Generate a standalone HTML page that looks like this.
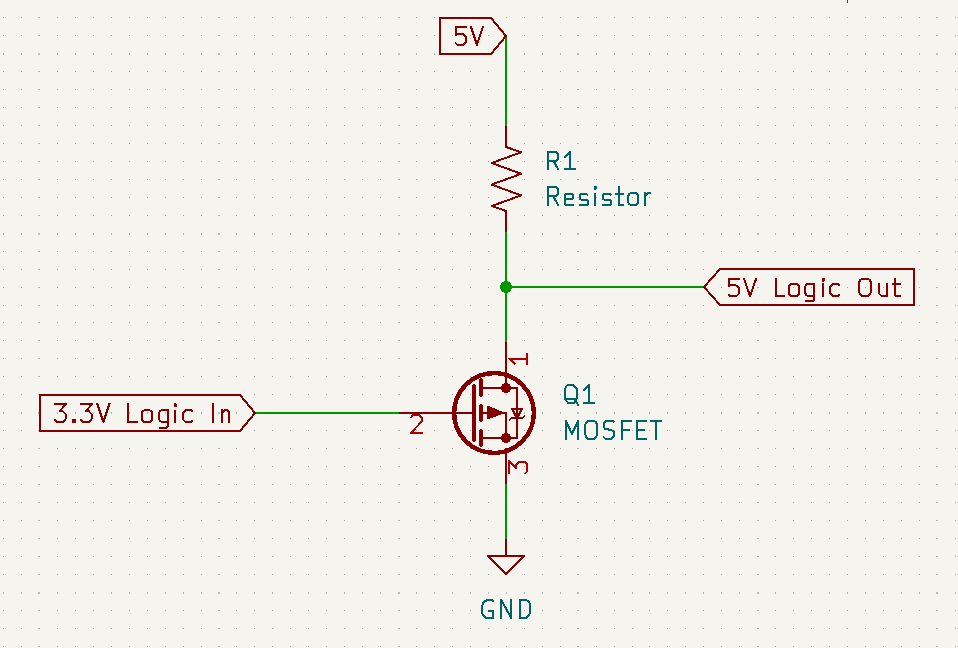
<!DOCTYPE html>
<html><head><meta charset="utf-8"><style>
html,body{margin:0;padding:0;background:#F5F4EF;width:958px;height:648px;overflow:hidden;font-family:"Liberation Sans",sans-serif;}
svg{display:block;} svg *{shape-rendering:crispEdges;}
</style></head><body>
<svg width="958" height="648" viewBox="0 0 958 648">
<rect width="958" height="648" fill="#F5F4EF"/>
<path d="M3,17h1v1h-1zM3,35h1v1h-1zM3,71h1v1h-1zM3,89h1v1h-1zM3,107h1v1h-1zM3,125h1v1h-1zM3,143h1v1h-1zM3,161h1v1h-1zM3,179h1v1h-1zM3,197h1v1h-1zM3,215h1v1h-1zM3,251h1v1h-1zM3,269h1v1h-1zM3,287h1v1h-1zM3,305h1v1h-1zM3,322h1v1h-1zM3,340h1v1h-1zM3,358h1v1h-1zM3,376h1v1h-1zM3,394h1v1h-1zM3,430h1v1h-1zM3,448h1v1h-1zM3,466h1v1h-1zM3,484h1v1h-1zM3,502h1v1h-1zM3,520h1v1h-1zM3,538h1v1h-1zM3,556h1v1h-1zM3,574h1v1h-1zM3,610h1v1h-1zM3,628h1v1h-1zM3,646h1v1h-1zM21,17h1v1h-1zM21,35h1v1h-1zM21,71h1v1h-1zM21,89h1v1h-1zM21,107h1v1h-1zM21,125h1v1h-1zM21,143h1v1h-1zM21,161h1v1h-1zM21,179h1v1h-1zM21,197h1v1h-1zM21,215h1v1h-1zM21,251h1v1h-1zM21,269h1v1h-1zM21,287h1v1h-1zM21,305h1v1h-1zM21,322h1v1h-1zM21,340h1v1h-1zM21,358h1v1h-1zM21,376h1v1h-1zM21,394h1v1h-1zM21,430h1v1h-1zM21,448h1v1h-1zM21,466h1v1h-1zM21,484h1v1h-1zM21,502h1v1h-1zM21,520h1v1h-1zM21,538h1v1h-1zM21,556h1v1h-1zM21,574h1v1h-1zM21,610h1v1h-1zM21,628h1v1h-1zM21,646h1v1h-1zM57,17h1v1h-1zM57,35h1v1h-1zM57,71h1v1h-1zM57,89h1v1h-1zM57,107h1v1h-1zM57,125h1v1h-1zM57,143h1v1h-1zM57,161h1v1h-1zM57,179h1v1h-1zM57,197h1v1h-1zM57,215h1v1h-1zM57,251h1v1h-1zM57,269h1v1h-1zM57,287h1v1h-1zM57,305h1v1h-1zM57,322h1v1h-1zM57,340h1v1h-1zM57,358h1v1h-1zM57,376h1v1h-1zM57,394h1v1h-1zM57,430h1v1h-1zM57,448h1v1h-1zM57,466h1v1h-1zM57,484h1v1h-1zM57,502h1v1h-1zM57,520h1v1h-1zM57,538h1v1h-1zM57,556h1v1h-1zM57,574h1v1h-1zM57,610h1v1h-1zM57,628h1v1h-1zM57,646h1v1h-1zM75,17h1v1h-1zM75,35h1v1h-1zM75,71h1v1h-1zM75,89h1v1h-1zM75,107h1v1h-1zM75,125h1v1h-1zM75,143h1v1h-1zM75,161h1v1h-1zM75,179h1v1h-1zM75,197h1v1h-1zM75,215h1v1h-1zM75,251h1v1h-1zM75,269h1v1h-1zM75,287h1v1h-1zM75,305h1v1h-1zM75,322h1v1h-1zM75,340h1v1h-1zM75,358h1v1h-1zM75,376h1v1h-1zM75,394h1v1h-1zM75,430h1v1h-1zM75,448h1v1h-1zM75,466h1v1h-1zM75,484h1v1h-1zM75,502h1v1h-1zM75,520h1v1h-1zM75,538h1v1h-1zM75,556h1v1h-1zM75,574h1v1h-1zM75,610h1v1h-1zM75,628h1v1h-1zM75,646h1v1h-1zM93,17h1v1h-1zM93,35h1v1h-1zM93,71h1v1h-1zM93,89h1v1h-1zM93,107h1v1h-1zM93,125h1v1h-1zM93,143h1v1h-1zM93,161h1v1h-1zM93,179h1v1h-1zM93,197h1v1h-1zM93,215h1v1h-1zM93,251h1v1h-1zM93,269h1v1h-1zM93,287h1v1h-1zM93,305h1v1h-1zM93,322h1v1h-1zM93,340h1v1h-1zM93,358h1v1h-1zM93,376h1v1h-1zM93,394h1v1h-1zM93,430h1v1h-1zM93,448h1v1h-1zM93,466h1v1h-1zM93,484h1v1h-1zM93,502h1v1h-1zM93,520h1v1h-1zM93,538h1v1h-1zM93,556h1v1h-1zM93,574h1v1h-1zM93,610h1v1h-1zM93,628h1v1h-1zM93,646h1v1h-1zM111,17h1v1h-1zM111,35h1v1h-1zM111,71h1v1h-1zM111,89h1v1h-1zM111,107h1v1h-1zM111,125h1v1h-1zM111,143h1v1h-1zM111,161h1v1h-1zM111,179h1v1h-1zM111,197h1v1h-1zM111,215h1v1h-1zM111,251h1v1h-1zM111,269h1v1h-1zM111,287h1v1h-1zM111,305h1v1h-1zM111,322h1v1h-1zM111,340h1v1h-1zM111,358h1v1h-1zM111,376h1v1h-1zM111,394h1v1h-1zM111,430h1v1h-1zM111,448h1v1h-1zM111,466h1v1h-1zM111,484h1v1h-1zM111,502h1v1h-1zM111,520h1v1h-1zM111,538h1v1h-1zM111,556h1v1h-1zM111,574h1v1h-1zM111,610h1v1h-1zM111,628h1v1h-1zM111,646h1v1h-1zM129,17h1v1h-1zM129,35h1v1h-1zM129,71h1v1h-1zM129,89h1v1h-1zM129,107h1v1h-1zM129,125h1v1h-1zM129,143h1v1h-1zM129,161h1v1h-1zM129,179h1v1h-1zM129,197h1v1h-1zM129,215h1v1h-1zM129,251h1v1h-1zM129,269h1v1h-1zM129,287h1v1h-1zM129,305h1v1h-1zM129,322h1v1h-1zM129,340h1v1h-1zM129,358h1v1h-1zM129,376h1v1h-1zM129,394h1v1h-1zM129,430h1v1h-1zM129,448h1v1h-1zM129,466h1v1h-1zM129,484h1v1h-1zM129,502h1v1h-1zM129,520h1v1h-1zM129,538h1v1h-1zM129,556h1v1h-1zM129,574h1v1h-1zM129,610h1v1h-1zM129,628h1v1h-1zM129,646h1v1h-1zM147,17h1v1h-1zM147,35h1v1h-1zM147,71h1v1h-1zM147,89h1v1h-1zM147,107h1v1h-1zM147,125h1v1h-1zM147,143h1v1h-1zM147,161h1v1h-1zM147,179h1v1h-1zM147,197h1v1h-1zM147,215h1v1h-1zM147,251h1v1h-1zM147,269h1v1h-1zM147,287h1v1h-1zM147,305h1v1h-1zM147,322h1v1h-1zM147,340h1v1h-1zM147,358h1v1h-1zM147,376h1v1h-1zM147,394h1v1h-1zM147,430h1v1h-1zM147,448h1v1h-1zM147,466h1v1h-1zM147,484h1v1h-1zM147,502h1v1h-1zM147,520h1v1h-1zM147,538h1v1h-1zM147,556h1v1h-1zM147,574h1v1h-1zM147,610h1v1h-1zM147,628h1v1h-1zM147,646h1v1h-1zM165,17h1v1h-1zM165,35h1v1h-1zM165,71h1v1h-1zM165,89h1v1h-1zM165,107h1v1h-1zM165,125h1v1h-1zM165,143h1v1h-1zM165,161h1v1h-1zM165,179h1v1h-1zM165,197h1v1h-1zM165,215h1v1h-1zM165,251h1v1h-1zM165,269h1v1h-1zM165,287h1v1h-1zM165,305h1v1h-1zM165,322h1v1h-1zM165,340h1v1h-1zM165,358h1v1h-1zM165,376h1v1h-1zM165,394h1v1h-1zM165,430h1v1h-1zM165,448h1v1h-1zM165,466h1v1h-1zM165,484h1v1h-1zM165,502h1v1h-1zM165,520h1v1h-1zM165,538h1v1h-1zM165,556h1v1h-1zM165,574h1v1h-1zM165,610h1v1h-1zM165,628h1v1h-1zM165,646h1v1h-1zM183,17h1v1h-1zM183,35h1v1h-1zM183,71h1v1h-1zM183,89h1v1h-1zM183,107h1v1h-1zM183,125h1v1h-1zM183,143h1v1h-1zM183,161h1v1h-1zM183,179h1v1h-1zM183,197h1v1h-1zM183,215h1v1h-1zM183,251h1v1h-1zM183,269h1v1h-1zM183,287h1v1h-1zM183,305h1v1h-1zM183,322h1v1h-1zM183,340h1v1h-1zM183,358h1v1h-1zM183,376h1v1h-1zM183,394h1v1h-1zM183,430h1v1h-1zM183,448h1v1h-1zM183,466h1v1h-1zM183,484h1v1h-1zM183,502h1v1h-1zM183,520h1v1h-1zM183,538h1v1h-1zM183,556h1v1h-1zM183,574h1v1h-1zM183,610h1v1h-1zM183,628h1v1h-1zM183,646h1v1h-1zM201,17h1v1h-1zM201,35h1v1h-1zM201,71h1v1h-1zM201,89h1v1h-1zM201,107h1v1h-1zM201,125h1v1h-1zM201,143h1v1h-1zM201,161h1v1h-1zM201,179h1v1h-1zM201,197h1v1h-1zM201,215h1v1h-1zM201,251h1v1h-1zM201,269h1v1h-1zM201,287h1v1h-1zM201,305h1v1h-1zM201,322h1v1h-1zM201,340h1v1h-1zM201,358h1v1h-1zM201,376h1v1h-1zM201,394h1v1h-1zM201,430h1v1h-1zM201,448h1v1h-1zM201,466h1v1h-1zM201,484h1v1h-1zM201,502h1v1h-1zM201,520h1v1h-1zM201,538h1v1h-1zM201,556h1v1h-1zM201,574h1v1h-1zM201,610h1v1h-1zM201,628h1v1h-1zM201,646h1v1h-1zM236,17h1v1h-1zM236,35h1v1h-1zM236,71h1v1h-1zM236,89h1v1h-1zM236,107h1v1h-1zM236,125h1v1h-1zM236,143h1v1h-1zM236,161h1v1h-1zM236,179h1v1h-1zM236,197h1v1h-1zM236,215h1v1h-1zM236,251h1v1h-1zM236,269h1v1h-1zM236,287h1v1h-1zM236,305h1v1h-1zM236,322h1v1h-1zM236,340h1v1h-1zM236,358h1v1h-1zM236,376h1v1h-1zM236,394h1v1h-1zM236,430h1v1h-1zM236,448h1v1h-1zM236,466h1v1h-1zM236,484h1v1h-1zM236,502h1v1h-1zM236,520h1v1h-1zM236,538h1v1h-1zM236,556h1v1h-1zM236,574h1v1h-1zM236,610h1v1h-1zM236,628h1v1h-1zM236,646h1v1h-1zM254,17h1v1h-1zM254,35h1v1h-1zM254,71h1v1h-1zM254,89h1v1h-1zM254,107h1v1h-1zM254,125h1v1h-1zM254,143h1v1h-1zM254,161h1v1h-1zM254,179h1v1h-1zM254,197h1v1h-1zM254,215h1v1h-1zM254,251h1v1h-1zM254,269h1v1h-1zM254,287h1v1h-1zM254,305h1v1h-1zM254,322h1v1h-1zM254,340h1v1h-1zM254,358h1v1h-1zM254,376h1v1h-1zM254,394h1v1h-1zM254,430h1v1h-1zM254,448h1v1h-1zM254,466h1v1h-1zM254,484h1v1h-1zM254,502h1v1h-1zM254,520h1v1h-1zM254,538h1v1h-1zM254,556h1v1h-1zM254,574h1v1h-1zM254,610h1v1h-1zM254,628h1v1h-1zM254,646h1v1h-1zM272,17h1v1h-1zM272,35h1v1h-1zM272,71h1v1h-1zM272,89h1v1h-1zM272,107h1v1h-1zM272,125h1v1h-1zM272,143h1v1h-1zM272,161h1v1h-1zM272,179h1v1h-1zM272,197h1v1h-1zM272,215h1v1h-1zM272,251h1v1h-1zM272,269h1v1h-1zM272,287h1v1h-1zM272,305h1v1h-1zM272,322h1v1h-1zM272,340h1v1h-1zM272,358h1v1h-1zM272,376h1v1h-1zM272,394h1v1h-1zM272,430h1v1h-1zM272,448h1v1h-1zM272,466h1v1h-1zM272,484h1v1h-1zM272,502h1v1h-1zM272,520h1v1h-1zM272,538h1v1h-1zM272,556h1v1h-1zM272,574h1v1h-1zM272,610h1v1h-1zM272,628h1v1h-1zM272,646h1v1h-1zM290,17h1v1h-1zM290,35h1v1h-1zM290,71h1v1h-1zM290,89h1v1h-1zM290,107h1v1h-1zM290,125h1v1h-1zM290,143h1v1h-1zM290,161h1v1h-1zM290,179h1v1h-1zM290,197h1v1h-1zM290,215h1v1h-1zM290,251h1v1h-1zM290,269h1v1h-1zM290,287h1v1h-1zM290,305h1v1h-1zM290,322h1v1h-1zM290,340h1v1h-1zM290,358h1v1h-1zM290,376h1v1h-1zM290,394h1v1h-1zM290,430h1v1h-1zM290,448h1v1h-1zM290,466h1v1h-1zM290,484h1v1h-1zM290,502h1v1h-1zM290,520h1v1h-1zM290,538h1v1h-1zM290,556h1v1h-1zM290,574h1v1h-1zM290,610h1v1h-1zM290,628h1v1h-1zM290,646h1v1h-1zM308,17h1v1h-1zM308,35h1v1h-1zM308,71h1v1h-1zM308,89h1v1h-1zM308,107h1v1h-1zM308,125h1v1h-1zM308,143h1v1h-1zM308,161h1v1h-1zM308,179h1v1h-1zM308,197h1v1h-1zM308,215h1v1h-1zM308,251h1v1h-1zM308,269h1v1h-1zM308,287h1v1h-1zM308,305h1v1h-1zM308,322h1v1h-1zM308,340h1v1h-1zM308,358h1v1h-1zM308,376h1v1h-1zM308,394h1v1h-1zM308,430h1v1h-1zM308,448h1v1h-1zM308,466h1v1h-1zM308,484h1v1h-1zM308,502h1v1h-1zM308,520h1v1h-1zM308,538h1v1h-1zM308,556h1v1h-1zM308,574h1v1h-1zM308,610h1v1h-1zM308,628h1v1h-1zM308,646h1v1h-1zM326,17h1v1h-1zM326,35h1v1h-1zM326,71h1v1h-1zM326,89h1v1h-1zM326,107h1v1h-1zM326,125h1v1h-1zM326,143h1v1h-1zM326,161h1v1h-1zM326,179h1v1h-1zM326,197h1v1h-1zM326,215h1v1h-1zM326,251h1v1h-1zM326,269h1v1h-1zM326,287h1v1h-1zM326,305h1v1h-1zM326,322h1v1h-1zM326,340h1v1h-1zM326,358h1v1h-1zM326,376h1v1h-1zM326,394h1v1h-1zM326,430h1v1h-1zM326,448h1v1h-1zM326,466h1v1h-1zM326,484h1v1h-1zM326,502h1v1h-1zM326,520h1v1h-1zM326,538h1v1h-1zM326,556h1v1h-1zM326,574h1v1h-1zM326,610h1v1h-1zM326,628h1v1h-1zM326,646h1v1h-1zM344,17h1v1h-1zM344,35h1v1h-1zM344,71h1v1h-1zM344,89h1v1h-1zM344,107h1v1h-1zM344,125h1v1h-1zM344,143h1v1h-1zM344,161h1v1h-1zM344,179h1v1h-1zM344,197h1v1h-1zM344,215h1v1h-1zM344,251h1v1h-1zM344,269h1v1h-1zM344,287h1v1h-1zM344,305h1v1h-1zM344,322h1v1h-1zM344,340h1v1h-1zM344,358h1v1h-1zM344,376h1v1h-1zM344,394h1v1h-1zM344,430h1v1h-1zM344,448h1v1h-1zM344,466h1v1h-1zM344,484h1v1h-1zM344,502h1v1h-1zM344,520h1v1h-1zM344,538h1v1h-1zM344,556h1v1h-1zM344,574h1v1h-1zM344,610h1v1h-1zM344,628h1v1h-1zM344,646h1v1h-1zM362,17h1v1h-1zM362,35h1v1h-1zM362,71h1v1h-1zM362,89h1v1h-1zM362,107h1v1h-1zM362,125h1v1h-1zM362,143h1v1h-1zM362,161h1v1h-1zM362,179h1v1h-1zM362,197h1v1h-1zM362,215h1v1h-1zM362,251h1v1h-1zM362,269h1v1h-1zM362,287h1v1h-1zM362,305h1v1h-1zM362,322h1v1h-1zM362,340h1v1h-1zM362,358h1v1h-1zM362,376h1v1h-1zM362,394h1v1h-1zM362,430h1v1h-1zM362,448h1v1h-1zM362,466h1v1h-1zM362,484h1v1h-1zM362,502h1v1h-1zM362,520h1v1h-1zM362,538h1v1h-1zM362,556h1v1h-1zM362,574h1v1h-1zM362,610h1v1h-1zM362,628h1v1h-1zM362,646h1v1h-1zM380,17h1v1h-1zM380,35h1v1h-1zM380,71h1v1h-1zM380,89h1v1h-1zM380,107h1v1h-1zM380,125h1v1h-1zM380,143h1v1h-1zM380,161h1v1h-1zM380,179h1v1h-1zM380,197h1v1h-1zM380,215h1v1h-1zM380,251h1v1h-1zM380,269h1v1h-1zM380,287h1v1h-1zM380,305h1v1h-1zM380,322h1v1h-1zM380,340h1v1h-1zM380,358h1v1h-1zM380,376h1v1h-1zM380,394h1v1h-1zM380,430h1v1h-1zM380,448h1v1h-1zM380,466h1v1h-1zM380,484h1v1h-1zM380,502h1v1h-1zM380,520h1v1h-1zM380,538h1v1h-1zM380,556h1v1h-1zM380,574h1v1h-1zM380,610h1v1h-1zM380,628h1v1h-1zM380,646h1v1h-1zM416,17h1v1h-1zM416,35h1v1h-1zM416,71h1v1h-1zM416,89h1v1h-1zM416,107h1v1h-1zM416,125h1v1h-1zM416,143h1v1h-1zM416,161h1v1h-1zM416,179h1v1h-1zM416,197h1v1h-1zM416,215h1v1h-1zM416,251h1v1h-1zM416,269h1v1h-1zM416,287h1v1h-1zM416,305h1v1h-1zM416,322h1v1h-1zM416,340h1v1h-1zM416,358h1v1h-1zM416,376h1v1h-1zM416,394h1v1h-1zM416,430h1v1h-1zM416,448h1v1h-1zM416,466h1v1h-1zM416,484h1v1h-1zM416,502h1v1h-1zM416,520h1v1h-1zM416,538h1v1h-1zM416,556h1v1h-1zM416,574h1v1h-1zM416,610h1v1h-1zM416,628h1v1h-1zM416,646h1v1h-1zM434,17h1v1h-1zM434,35h1v1h-1zM434,71h1v1h-1zM434,89h1v1h-1zM434,107h1v1h-1zM434,125h1v1h-1zM434,143h1v1h-1zM434,161h1v1h-1zM434,179h1v1h-1zM434,197h1v1h-1zM434,215h1v1h-1zM434,251h1v1h-1zM434,269h1v1h-1zM434,287h1v1h-1zM434,305h1v1h-1zM434,322h1v1h-1zM434,340h1v1h-1zM434,358h1v1h-1zM434,376h1v1h-1zM434,394h1v1h-1zM434,430h1v1h-1zM434,448h1v1h-1zM434,466h1v1h-1zM434,484h1v1h-1zM434,502h1v1h-1zM434,520h1v1h-1zM434,538h1v1h-1zM434,556h1v1h-1zM434,574h1v1h-1zM434,610h1v1h-1zM434,628h1v1h-1zM434,646h1v1h-1zM452,17h1v1h-1zM452,35h1v1h-1zM452,71h1v1h-1zM452,89h1v1h-1zM452,107h1v1h-1zM452,125h1v1h-1zM452,143h1v1h-1zM452,161h1v1h-1zM452,179h1v1h-1zM452,197h1v1h-1zM452,215h1v1h-1zM452,251h1v1h-1zM452,269h1v1h-1zM452,287h1v1h-1zM452,305h1v1h-1zM452,322h1v1h-1zM452,340h1v1h-1zM452,358h1v1h-1zM452,376h1v1h-1zM452,394h1v1h-1zM452,430h1v1h-1zM452,448h1v1h-1zM452,466h1v1h-1zM452,484h1v1h-1zM452,502h1v1h-1zM452,520h1v1h-1zM452,538h1v1h-1zM452,556h1v1h-1zM452,574h1v1h-1zM452,610h1v1h-1zM452,628h1v1h-1zM452,646h1v1h-1zM470,17h1v1h-1zM470,35h1v1h-1zM470,71h1v1h-1zM470,89h1v1h-1zM470,107h1v1h-1zM470,125h1v1h-1zM470,143h1v1h-1zM470,161h1v1h-1zM470,179h1v1h-1zM470,197h1v1h-1zM470,215h1v1h-1zM470,251h1v1h-1zM470,269h1v1h-1zM470,287h1v1h-1zM470,305h1v1h-1zM470,322h1v1h-1zM470,340h1v1h-1zM470,358h1v1h-1zM470,376h1v1h-1zM470,394h1v1h-1zM470,430h1v1h-1zM470,448h1v1h-1zM470,466h1v1h-1zM470,484h1v1h-1zM470,502h1v1h-1zM470,520h1v1h-1zM470,538h1v1h-1zM470,556h1v1h-1zM470,574h1v1h-1zM470,610h1v1h-1zM470,628h1v1h-1zM470,646h1v1h-1zM488,17h1v1h-1zM488,35h1v1h-1zM488,71h1v1h-1zM488,89h1v1h-1zM488,107h1v1h-1zM488,125h1v1h-1zM488,143h1v1h-1zM488,161h1v1h-1zM488,179h1v1h-1zM488,197h1v1h-1zM488,215h1v1h-1zM488,251h1v1h-1zM488,269h1v1h-1zM488,287h1v1h-1zM488,305h1v1h-1zM488,322h1v1h-1zM488,340h1v1h-1zM488,358h1v1h-1zM488,376h1v1h-1zM488,394h1v1h-1zM488,430h1v1h-1zM488,448h1v1h-1zM488,466h1v1h-1zM488,484h1v1h-1zM488,502h1v1h-1zM488,520h1v1h-1zM488,538h1v1h-1zM488,556h1v1h-1zM488,574h1v1h-1zM488,610h1v1h-1zM488,628h1v1h-1zM488,646h1v1h-1zM506,17h1v1h-1zM506,35h1v1h-1zM506,71h1v1h-1zM506,89h1v1h-1zM506,107h1v1h-1zM506,125h1v1h-1zM506,143h1v1h-1zM506,161h1v1h-1zM506,179h1v1h-1zM506,197h1v1h-1zM506,215h1v1h-1zM506,251h1v1h-1zM506,269h1v1h-1zM506,287h1v1h-1zM506,305h1v1h-1zM506,322h1v1h-1zM506,340h1v1h-1zM506,358h1v1h-1zM506,376h1v1h-1zM506,394h1v1h-1zM506,430h1v1h-1zM506,448h1v1h-1zM506,466h1v1h-1zM506,484h1v1h-1zM506,502h1v1h-1zM506,520h1v1h-1zM506,538h1v1h-1zM506,556h1v1h-1zM506,574h1v1h-1zM506,610h1v1h-1zM506,628h1v1h-1zM506,646h1v1h-1zM524,17h1v1h-1zM524,35h1v1h-1zM524,71h1v1h-1zM524,89h1v1h-1zM524,107h1v1h-1zM524,125h1v1h-1zM524,143h1v1h-1zM524,161h1v1h-1zM524,179h1v1h-1zM524,197h1v1h-1zM524,215h1v1h-1zM524,251h1v1h-1zM524,269h1v1h-1zM524,287h1v1h-1zM524,305h1v1h-1zM524,322h1v1h-1zM524,340h1v1h-1zM524,358h1v1h-1zM524,376h1v1h-1zM524,394h1v1h-1zM524,430h1v1h-1zM524,448h1v1h-1zM524,466h1v1h-1zM524,484h1v1h-1zM524,502h1v1h-1zM524,520h1v1h-1zM524,538h1v1h-1zM524,556h1v1h-1zM524,574h1v1h-1zM524,610h1v1h-1zM524,628h1v1h-1zM524,646h1v1h-1zM542,17h1v1h-1zM542,35h1v1h-1zM542,71h1v1h-1zM542,89h1v1h-1zM542,107h1v1h-1zM542,125h1v1h-1zM542,143h1v1h-1zM542,161h1v1h-1zM542,179h1v1h-1zM542,197h1v1h-1zM542,215h1v1h-1zM542,251h1v1h-1zM542,269h1v1h-1zM542,287h1v1h-1zM542,305h1v1h-1zM542,322h1v1h-1zM542,340h1v1h-1zM542,358h1v1h-1zM542,376h1v1h-1zM542,394h1v1h-1zM542,430h1v1h-1zM542,448h1v1h-1zM542,466h1v1h-1zM542,484h1v1h-1zM542,502h1v1h-1zM542,520h1v1h-1zM542,538h1v1h-1zM542,556h1v1h-1zM542,574h1v1h-1zM542,610h1v1h-1zM542,628h1v1h-1zM542,646h1v1h-1zM560,17h1v1h-1zM560,35h1v1h-1zM560,71h1v1h-1zM560,89h1v1h-1zM560,107h1v1h-1zM560,125h1v1h-1zM560,143h1v1h-1zM560,161h1v1h-1zM560,179h1v1h-1zM560,197h1v1h-1zM560,215h1v1h-1zM560,251h1v1h-1zM560,269h1v1h-1zM560,287h1v1h-1zM560,305h1v1h-1zM560,322h1v1h-1zM560,340h1v1h-1zM560,358h1v1h-1zM560,376h1v1h-1zM560,394h1v1h-1zM560,430h1v1h-1zM560,448h1v1h-1zM560,466h1v1h-1zM560,484h1v1h-1zM560,502h1v1h-1zM560,520h1v1h-1zM560,538h1v1h-1zM560,556h1v1h-1zM560,574h1v1h-1zM560,610h1v1h-1zM560,628h1v1h-1zM560,646h1v1h-1zM596,17h1v1h-1zM596,35h1v1h-1zM596,71h1v1h-1zM596,89h1v1h-1zM596,107h1v1h-1zM596,125h1v1h-1zM596,143h1v1h-1zM596,161h1v1h-1zM596,179h1v1h-1zM596,197h1v1h-1zM596,215h1v1h-1zM596,251h1v1h-1zM596,269h1v1h-1zM596,287h1v1h-1zM596,305h1v1h-1zM596,322h1v1h-1zM596,340h1v1h-1zM596,358h1v1h-1zM596,376h1v1h-1zM596,394h1v1h-1zM596,430h1v1h-1zM596,448h1v1h-1zM596,466h1v1h-1zM596,484h1v1h-1zM596,502h1v1h-1zM596,520h1v1h-1zM596,538h1v1h-1zM596,556h1v1h-1zM596,574h1v1h-1zM596,610h1v1h-1zM596,628h1v1h-1zM596,646h1v1h-1zM614,17h1v1h-1zM614,35h1v1h-1zM614,71h1v1h-1zM614,89h1v1h-1zM614,107h1v1h-1zM614,125h1v1h-1zM614,143h1v1h-1zM614,161h1v1h-1zM614,179h1v1h-1zM614,197h1v1h-1zM614,215h1v1h-1zM614,251h1v1h-1zM614,269h1v1h-1zM614,287h1v1h-1zM614,305h1v1h-1zM614,322h1v1h-1zM614,340h1v1h-1zM614,358h1v1h-1zM614,376h1v1h-1zM614,394h1v1h-1zM614,430h1v1h-1zM614,448h1v1h-1zM614,466h1v1h-1zM614,484h1v1h-1zM614,502h1v1h-1zM614,520h1v1h-1zM614,538h1v1h-1zM614,556h1v1h-1zM614,574h1v1h-1zM614,610h1v1h-1zM614,628h1v1h-1zM614,646h1v1h-1zM632,17h1v1h-1zM632,35h1v1h-1zM632,71h1v1h-1zM632,89h1v1h-1zM632,107h1v1h-1zM632,125h1v1h-1zM632,143h1v1h-1zM632,161h1v1h-1zM632,179h1v1h-1zM632,197h1v1h-1zM632,215h1v1h-1zM632,251h1v1h-1zM632,269h1v1h-1zM632,287h1v1h-1zM632,305h1v1h-1zM632,322h1v1h-1zM632,340h1v1h-1zM632,358h1v1h-1zM632,376h1v1h-1zM632,394h1v1h-1zM632,430h1v1h-1zM632,448h1v1h-1zM632,466h1v1h-1zM632,484h1v1h-1zM632,502h1v1h-1zM632,520h1v1h-1zM632,538h1v1h-1zM632,556h1v1h-1zM632,574h1v1h-1zM632,610h1v1h-1zM632,628h1v1h-1zM632,646h1v1h-1zM649,17h1v1h-1zM649,35h1v1h-1zM649,71h1v1h-1zM649,89h1v1h-1zM649,107h1v1h-1zM649,125h1v1h-1zM649,143h1v1h-1zM649,161h1v1h-1zM649,179h1v1h-1zM649,197h1v1h-1zM649,215h1v1h-1zM649,251h1v1h-1zM649,269h1v1h-1zM649,287h1v1h-1zM649,305h1v1h-1zM649,322h1v1h-1zM649,340h1v1h-1zM649,358h1v1h-1zM649,376h1v1h-1zM649,394h1v1h-1zM649,430h1v1h-1zM649,448h1v1h-1zM649,466h1v1h-1zM649,484h1v1h-1zM649,502h1v1h-1zM649,520h1v1h-1zM649,538h1v1h-1zM649,556h1v1h-1zM649,574h1v1h-1zM649,610h1v1h-1zM649,628h1v1h-1zM649,646h1v1h-1zM667,17h1v1h-1zM667,35h1v1h-1zM667,71h1v1h-1zM667,89h1v1h-1zM667,107h1v1h-1zM667,125h1v1h-1zM667,143h1v1h-1zM667,161h1v1h-1zM667,179h1v1h-1zM667,197h1v1h-1zM667,215h1v1h-1zM667,251h1v1h-1zM667,269h1v1h-1zM667,287h1v1h-1zM667,305h1v1h-1zM667,322h1v1h-1zM667,340h1v1h-1zM667,358h1v1h-1zM667,376h1v1h-1zM667,394h1v1h-1zM667,430h1v1h-1zM667,448h1v1h-1zM667,466h1v1h-1zM667,484h1v1h-1zM667,502h1v1h-1zM667,520h1v1h-1zM667,538h1v1h-1zM667,556h1v1h-1zM667,574h1v1h-1zM667,610h1v1h-1zM667,628h1v1h-1zM667,646h1v1h-1zM685,17h1v1h-1zM685,35h1v1h-1zM685,71h1v1h-1zM685,89h1v1h-1zM685,107h1v1h-1zM685,125h1v1h-1zM685,143h1v1h-1zM685,161h1v1h-1zM685,179h1v1h-1zM685,197h1v1h-1zM685,215h1v1h-1zM685,251h1v1h-1zM685,269h1v1h-1zM685,287h1v1h-1zM685,305h1v1h-1zM685,322h1v1h-1zM685,340h1v1h-1zM685,358h1v1h-1zM685,376h1v1h-1zM685,394h1v1h-1zM685,430h1v1h-1zM685,448h1v1h-1zM685,466h1v1h-1zM685,484h1v1h-1zM685,502h1v1h-1zM685,520h1v1h-1zM685,538h1v1h-1zM685,556h1v1h-1zM685,574h1v1h-1zM685,610h1v1h-1zM685,628h1v1h-1zM685,646h1v1h-1zM703,17h1v1h-1zM703,35h1v1h-1zM703,71h1v1h-1zM703,89h1v1h-1zM703,107h1v1h-1zM703,125h1v1h-1zM703,143h1v1h-1zM703,161h1v1h-1zM703,179h1v1h-1zM703,197h1v1h-1zM703,215h1v1h-1zM703,251h1v1h-1zM703,269h1v1h-1zM703,287h1v1h-1zM703,305h1v1h-1zM703,322h1v1h-1zM703,340h1v1h-1zM703,358h1v1h-1zM703,376h1v1h-1zM703,394h1v1h-1zM703,430h1v1h-1zM703,448h1v1h-1zM703,466h1v1h-1zM703,484h1v1h-1zM703,502h1v1h-1zM703,520h1v1h-1zM703,538h1v1h-1zM703,556h1v1h-1zM703,574h1v1h-1zM703,610h1v1h-1zM703,628h1v1h-1zM703,646h1v1h-1zM721,17h1v1h-1zM721,35h1v1h-1zM721,71h1v1h-1zM721,89h1v1h-1zM721,107h1v1h-1zM721,125h1v1h-1zM721,143h1v1h-1zM721,161h1v1h-1zM721,179h1v1h-1zM721,197h1v1h-1zM721,215h1v1h-1zM721,251h1v1h-1zM721,269h1v1h-1zM721,287h1v1h-1zM721,305h1v1h-1zM721,322h1v1h-1zM721,340h1v1h-1zM721,358h1v1h-1zM721,376h1v1h-1zM721,394h1v1h-1zM721,430h1v1h-1zM721,448h1v1h-1zM721,466h1v1h-1zM721,484h1v1h-1zM721,502h1v1h-1zM721,520h1v1h-1zM721,538h1v1h-1zM721,556h1v1h-1zM721,574h1v1h-1zM721,610h1v1h-1zM721,628h1v1h-1zM721,646h1v1h-1zM739,17h1v1h-1zM739,35h1v1h-1zM739,71h1v1h-1zM739,89h1v1h-1zM739,107h1v1h-1zM739,125h1v1h-1zM739,143h1v1h-1zM739,161h1v1h-1zM739,179h1v1h-1zM739,197h1v1h-1zM739,215h1v1h-1zM739,251h1v1h-1zM739,269h1v1h-1zM739,287h1v1h-1zM739,305h1v1h-1zM739,322h1v1h-1zM739,340h1v1h-1zM739,358h1v1h-1zM739,376h1v1h-1zM739,394h1v1h-1zM739,430h1v1h-1zM739,448h1v1h-1zM739,466h1v1h-1zM739,484h1v1h-1zM739,502h1v1h-1zM739,520h1v1h-1zM739,538h1v1h-1zM739,556h1v1h-1zM739,574h1v1h-1zM739,610h1v1h-1zM739,628h1v1h-1zM739,646h1v1h-1zM775,17h1v1h-1zM775,35h1v1h-1zM775,71h1v1h-1zM775,89h1v1h-1zM775,107h1v1h-1zM775,125h1v1h-1zM775,143h1v1h-1zM775,161h1v1h-1zM775,179h1v1h-1zM775,197h1v1h-1zM775,215h1v1h-1zM775,251h1v1h-1zM775,269h1v1h-1zM775,287h1v1h-1zM775,305h1v1h-1zM775,322h1v1h-1zM775,340h1v1h-1zM775,358h1v1h-1zM775,376h1v1h-1zM775,394h1v1h-1zM775,430h1v1h-1zM775,448h1v1h-1zM775,466h1v1h-1zM775,484h1v1h-1zM775,502h1v1h-1zM775,520h1v1h-1zM775,538h1v1h-1zM775,556h1v1h-1zM775,574h1v1h-1zM775,610h1v1h-1zM775,628h1v1h-1zM775,646h1v1h-1zM793,17h1v1h-1zM793,35h1v1h-1zM793,71h1v1h-1zM793,89h1v1h-1zM793,107h1v1h-1zM793,125h1v1h-1zM793,143h1v1h-1zM793,161h1v1h-1zM793,179h1v1h-1zM793,197h1v1h-1zM793,215h1v1h-1zM793,251h1v1h-1zM793,269h1v1h-1zM793,287h1v1h-1zM793,305h1v1h-1zM793,322h1v1h-1zM793,340h1v1h-1zM793,358h1v1h-1zM793,376h1v1h-1zM793,394h1v1h-1zM793,430h1v1h-1zM793,448h1v1h-1zM793,466h1v1h-1zM793,484h1v1h-1zM793,502h1v1h-1zM793,520h1v1h-1zM793,538h1v1h-1zM793,556h1v1h-1zM793,574h1v1h-1zM793,610h1v1h-1zM793,628h1v1h-1zM793,646h1v1h-1zM811,17h1v1h-1zM811,35h1v1h-1zM811,71h1v1h-1zM811,89h1v1h-1zM811,107h1v1h-1zM811,125h1v1h-1zM811,143h1v1h-1zM811,161h1v1h-1zM811,179h1v1h-1zM811,197h1v1h-1zM811,215h1v1h-1zM811,251h1v1h-1zM811,269h1v1h-1zM811,287h1v1h-1zM811,305h1v1h-1zM811,322h1v1h-1zM811,340h1v1h-1zM811,358h1v1h-1zM811,376h1v1h-1zM811,394h1v1h-1zM811,430h1v1h-1zM811,448h1v1h-1zM811,466h1v1h-1zM811,484h1v1h-1zM811,502h1v1h-1zM811,520h1v1h-1zM811,538h1v1h-1zM811,556h1v1h-1zM811,574h1v1h-1zM811,610h1v1h-1zM811,628h1v1h-1zM811,646h1v1h-1zM829,17h1v1h-1zM829,35h1v1h-1zM829,71h1v1h-1zM829,89h1v1h-1zM829,107h1v1h-1zM829,125h1v1h-1zM829,143h1v1h-1zM829,161h1v1h-1zM829,179h1v1h-1zM829,197h1v1h-1zM829,215h1v1h-1zM829,251h1v1h-1zM829,269h1v1h-1zM829,287h1v1h-1zM829,305h1v1h-1zM829,322h1v1h-1zM829,340h1v1h-1zM829,358h1v1h-1zM829,376h1v1h-1zM829,394h1v1h-1zM829,430h1v1h-1zM829,448h1v1h-1zM829,466h1v1h-1zM829,484h1v1h-1zM829,502h1v1h-1zM829,520h1v1h-1zM829,538h1v1h-1zM829,556h1v1h-1zM829,574h1v1h-1zM829,610h1v1h-1zM829,628h1v1h-1zM829,646h1v1h-1zM847,17h1v1h-1zM847,35h1v1h-1zM847,71h1v1h-1zM847,89h1v1h-1zM847,107h1v1h-1zM847,125h1v1h-1zM847,143h1v1h-1zM847,161h1v1h-1zM847,179h1v1h-1zM847,197h1v1h-1zM847,215h1v1h-1zM847,251h1v1h-1zM847,269h1v1h-1zM847,287h1v1h-1zM847,305h1v1h-1zM847,322h1v1h-1zM847,340h1v1h-1zM847,358h1v1h-1zM847,376h1v1h-1zM847,394h1v1h-1zM847,430h1v1h-1zM847,448h1v1h-1zM847,466h1v1h-1zM847,484h1v1h-1zM847,502h1v1h-1zM847,520h1v1h-1zM847,538h1v1h-1zM847,556h1v1h-1zM847,574h1v1h-1zM847,610h1v1h-1zM847,628h1v1h-1zM847,646h1v1h-1zM865,17h1v1h-1zM865,35h1v1h-1zM865,71h1v1h-1zM865,89h1v1h-1zM865,107h1v1h-1zM865,125h1v1h-1zM865,143h1v1h-1zM865,161h1v1h-1zM865,179h1v1h-1zM865,197h1v1h-1zM865,215h1v1h-1zM865,251h1v1h-1zM865,269h1v1h-1zM865,287h1v1h-1zM865,305h1v1h-1zM865,322h1v1h-1zM865,340h1v1h-1zM865,358h1v1h-1zM865,376h1v1h-1zM865,394h1v1h-1zM865,430h1v1h-1zM865,448h1v1h-1zM865,466h1v1h-1zM865,484h1v1h-1zM865,502h1v1h-1zM865,520h1v1h-1zM865,538h1v1h-1zM865,556h1v1h-1zM865,574h1v1h-1zM865,610h1v1h-1zM865,628h1v1h-1zM865,646h1v1h-1zM883,17h1v1h-1zM883,35h1v1h-1zM883,71h1v1h-1zM883,89h1v1h-1zM883,107h1v1h-1zM883,125h1v1h-1zM883,143h1v1h-1zM883,161h1v1h-1zM883,179h1v1h-1zM883,197h1v1h-1zM883,215h1v1h-1zM883,251h1v1h-1zM883,269h1v1h-1zM883,287h1v1h-1zM883,305h1v1h-1zM883,322h1v1h-1zM883,340h1v1h-1zM883,358h1v1h-1zM883,376h1v1h-1zM883,394h1v1h-1zM883,430h1v1h-1zM883,448h1v1h-1zM883,466h1v1h-1zM883,484h1v1h-1zM883,502h1v1h-1zM883,520h1v1h-1zM883,538h1v1h-1zM883,556h1v1h-1zM883,574h1v1h-1zM883,610h1v1h-1zM883,628h1v1h-1zM883,646h1v1h-1zM901,17h1v1h-1zM901,35h1v1h-1zM901,71h1v1h-1zM901,89h1v1h-1zM901,107h1v1h-1zM901,125h1v1h-1zM901,143h1v1h-1zM901,161h1v1h-1zM901,179h1v1h-1zM901,197h1v1h-1zM901,215h1v1h-1zM901,251h1v1h-1zM901,269h1v1h-1zM901,287h1v1h-1zM901,305h1v1h-1zM901,322h1v1h-1zM901,340h1v1h-1zM901,358h1v1h-1zM901,376h1v1h-1zM901,394h1v1h-1zM901,430h1v1h-1zM901,448h1v1h-1zM901,466h1v1h-1zM901,484h1v1h-1zM901,502h1v1h-1zM901,520h1v1h-1zM901,538h1v1h-1zM901,556h1v1h-1zM901,574h1v1h-1zM901,610h1v1h-1zM901,628h1v1h-1zM901,646h1v1h-1zM919,17h1v1h-1zM919,35h1v1h-1zM919,71h1v1h-1zM919,89h1v1h-1zM919,107h1v1h-1zM919,125h1v1h-1zM919,143h1v1h-1zM919,161h1v1h-1zM919,179h1v1h-1zM919,197h1v1h-1zM919,215h1v1h-1zM919,251h1v1h-1zM919,269h1v1h-1zM919,287h1v1h-1zM919,305h1v1h-1zM919,322h1v1h-1zM919,340h1v1h-1zM919,358h1v1h-1zM919,376h1v1h-1zM919,394h1v1h-1zM919,430h1v1h-1zM919,448h1v1h-1zM919,466h1v1h-1zM919,484h1v1h-1zM919,502h1v1h-1zM919,520h1v1h-1zM919,538h1v1h-1zM919,556h1v1h-1zM919,574h1v1h-1zM919,610h1v1h-1zM919,628h1v1h-1zM919,646h1v1h-1zM955,17h1v1h-1zM955,35h1v1h-1zM955,71h1v1h-1zM955,89h1v1h-1zM955,107h1v1h-1zM955,125h1v1h-1zM955,143h1v1h-1zM955,161h1v1h-1zM955,179h1v1h-1zM955,197h1v1h-1zM955,215h1v1h-1zM955,251h1v1h-1zM955,269h1v1h-1zM955,287h1v1h-1zM955,305h1v1h-1zM955,322h1v1h-1zM955,340h1v1h-1zM955,358h1v1h-1zM955,376h1v1h-1zM955,394h1v1h-1zM955,430h1v1h-1zM955,448h1v1h-1zM955,466h1v1h-1zM955,484h1v1h-1zM955,502h1v1h-1zM955,520h1v1h-1zM955,538h1v1h-1zM955,556h1v1h-1zM955,574h1v1h-1zM955,610h1v1h-1zM955,628h1v1h-1zM955,646h1v1h-1z" fill="#A4A4A4"/>
<path d="M3,53h1v2h-1zM3,233h1v2h-1zM3,412h1v2h-1zM3,592h1v2h-1zM21,53h1v2h-1zM21,233h1v2h-1zM21,412h1v2h-1zM21,592h1v2h-1zM38,17h2v1h-2zM38,35h2v1h-2zM38,71h2v1h-2zM38,89h2v1h-2zM38,107h2v1h-2zM38,125h2v1h-2zM38,143h2v1h-2zM38,161h2v1h-2zM38,179h2v1h-2zM38,197h2v1h-2zM38,215h2v1h-2zM38,251h2v1h-2zM38,269h2v1h-2zM38,287h2v1h-2zM38,305h2v1h-2zM38,322h2v1h-2zM38,340h2v1h-2zM38,358h2v1h-2zM38,376h2v1h-2zM38,394h2v1h-2zM38,430h2v1h-2zM38,448h2v1h-2zM38,466h2v1h-2zM38,484h2v1h-2zM38,502h2v1h-2zM38,520h2v1h-2zM38,538h2v1h-2zM38,556h2v1h-2zM38,574h2v1h-2zM38,610h2v1h-2zM38,628h2v1h-2zM38,646h2v1h-2zM57,53h1v2h-1zM57,233h1v2h-1zM57,412h1v2h-1zM57,592h1v2h-1zM75,53h1v2h-1zM75,233h1v2h-1zM75,412h1v2h-1zM75,592h1v2h-1zM93,53h1v2h-1zM93,233h1v2h-1zM93,412h1v2h-1zM93,592h1v2h-1zM111,53h1v2h-1zM111,233h1v2h-1zM111,412h1v2h-1zM111,592h1v2h-1zM129,53h1v2h-1zM129,233h1v2h-1zM129,412h1v2h-1zM129,592h1v2h-1zM147,53h1v2h-1zM147,233h1v2h-1zM147,412h1v2h-1zM147,592h1v2h-1zM165,53h1v2h-1zM165,233h1v2h-1zM165,412h1v2h-1zM165,592h1v2h-1zM183,53h1v2h-1zM183,233h1v2h-1zM183,412h1v2h-1zM183,592h1v2h-1zM201,53h1v2h-1zM201,233h1v2h-1zM201,412h1v2h-1zM201,592h1v2h-1zM218,17h2v1h-2zM218,35h2v1h-2zM218,71h2v1h-2zM218,89h2v1h-2zM218,107h2v1h-2zM218,125h2v1h-2zM218,143h2v1h-2zM218,161h2v1h-2zM218,179h2v1h-2zM218,197h2v1h-2zM218,215h2v1h-2zM218,251h2v1h-2zM218,269h2v1h-2zM218,287h2v1h-2zM218,305h2v1h-2zM218,322h2v1h-2zM218,340h2v1h-2zM218,358h2v1h-2zM218,376h2v1h-2zM218,394h2v1h-2zM218,430h2v1h-2zM218,448h2v1h-2zM218,466h2v1h-2zM218,484h2v1h-2zM218,502h2v1h-2zM218,520h2v1h-2zM218,538h2v1h-2zM218,556h2v1h-2zM218,574h2v1h-2zM218,610h2v1h-2zM218,628h2v1h-2zM218,646h2v1h-2zM236,53h1v2h-1zM236,233h1v2h-1zM236,412h1v2h-1zM236,592h1v2h-1zM254,53h1v2h-1zM254,233h1v2h-1zM254,412h1v2h-1zM254,592h1v2h-1zM272,53h1v2h-1zM272,233h1v2h-1zM272,412h1v2h-1zM272,592h1v2h-1zM290,53h1v2h-1zM290,233h1v2h-1zM290,412h1v2h-1zM290,592h1v2h-1zM308,53h1v2h-1zM308,233h1v2h-1zM308,412h1v2h-1zM308,592h1v2h-1zM326,53h1v2h-1zM326,233h1v2h-1zM326,412h1v2h-1zM326,592h1v2h-1zM344,53h1v2h-1zM344,233h1v2h-1zM344,412h1v2h-1zM344,592h1v2h-1zM362,53h1v2h-1zM362,233h1v2h-1zM362,412h1v2h-1zM362,592h1v2h-1zM380,53h1v2h-1zM380,233h1v2h-1zM380,412h1v2h-1zM380,592h1v2h-1zM398,17h2v1h-2zM398,35h2v1h-2zM398,71h2v1h-2zM398,89h2v1h-2zM398,107h2v1h-2zM398,125h2v1h-2zM398,143h2v1h-2zM398,161h2v1h-2zM398,179h2v1h-2zM398,197h2v1h-2zM398,215h2v1h-2zM398,251h2v1h-2zM398,269h2v1h-2zM398,287h2v1h-2zM398,305h2v1h-2zM398,322h2v1h-2zM398,340h2v1h-2zM398,358h2v1h-2zM398,376h2v1h-2zM398,394h2v1h-2zM398,430h2v1h-2zM398,448h2v1h-2zM398,466h2v1h-2zM398,484h2v1h-2zM398,502h2v1h-2zM398,520h2v1h-2zM398,538h2v1h-2zM398,556h2v1h-2zM398,574h2v1h-2zM398,610h2v1h-2zM398,628h2v1h-2zM398,646h2v1h-2zM416,53h1v2h-1zM416,233h1v2h-1zM416,412h1v2h-1zM416,592h1v2h-1zM434,53h1v2h-1zM434,233h1v2h-1zM434,412h1v2h-1zM434,592h1v2h-1zM452,53h1v2h-1zM452,233h1v2h-1zM452,412h1v2h-1zM452,592h1v2h-1zM470,53h1v2h-1zM470,233h1v2h-1zM470,412h1v2h-1zM470,592h1v2h-1zM488,53h1v2h-1zM488,233h1v2h-1zM488,412h1v2h-1zM488,592h1v2h-1zM506,53h1v2h-1zM506,233h1v2h-1zM506,412h1v2h-1zM506,592h1v2h-1zM524,53h1v2h-1zM524,233h1v2h-1zM524,412h1v2h-1zM524,592h1v2h-1zM542,53h1v2h-1zM542,233h1v2h-1zM542,412h1v2h-1zM542,592h1v2h-1zM560,53h1v2h-1zM560,233h1v2h-1zM560,412h1v2h-1zM560,592h1v2h-1zM577,17h2v1h-2zM577,35h2v1h-2zM577,71h2v1h-2zM577,89h2v1h-2zM577,107h2v1h-2zM577,125h2v1h-2zM577,143h2v1h-2zM577,161h2v1h-2zM577,179h2v1h-2zM577,197h2v1h-2zM577,215h2v1h-2zM577,251h2v1h-2zM577,269h2v1h-2zM577,287h2v1h-2zM577,305h2v1h-2zM577,322h2v1h-2zM577,340h2v1h-2zM577,358h2v1h-2zM577,376h2v1h-2zM577,394h2v1h-2zM577,430h2v1h-2zM577,448h2v1h-2zM577,466h2v1h-2zM577,484h2v1h-2zM577,502h2v1h-2zM577,520h2v1h-2zM577,538h2v1h-2zM577,556h2v1h-2zM577,574h2v1h-2zM577,610h2v1h-2zM577,628h2v1h-2zM577,646h2v1h-2zM596,53h1v2h-1zM596,233h1v2h-1zM596,412h1v2h-1zM596,592h1v2h-1zM614,53h1v2h-1zM614,233h1v2h-1zM614,412h1v2h-1zM614,592h1v2h-1zM632,53h1v2h-1zM632,233h1v2h-1zM632,412h1v2h-1zM632,592h1v2h-1zM649,53h1v2h-1zM649,233h1v2h-1zM649,412h1v2h-1zM649,592h1v2h-1zM667,53h1v2h-1zM667,233h1v2h-1zM667,412h1v2h-1zM667,592h1v2h-1zM685,53h1v2h-1zM685,233h1v2h-1zM685,412h1v2h-1zM685,592h1v2h-1zM703,53h1v2h-1zM703,233h1v2h-1zM703,412h1v2h-1zM703,592h1v2h-1zM721,53h1v2h-1zM721,233h1v2h-1zM721,412h1v2h-1zM721,592h1v2h-1zM739,53h1v2h-1zM739,233h1v2h-1zM739,412h1v2h-1zM739,592h1v2h-1zM757,17h2v1h-2zM757,35h2v1h-2zM757,71h2v1h-2zM757,89h2v1h-2zM757,107h2v1h-2zM757,125h2v1h-2zM757,143h2v1h-2zM757,161h2v1h-2zM757,179h2v1h-2zM757,197h2v1h-2zM757,215h2v1h-2zM757,251h2v1h-2zM757,269h2v1h-2zM757,287h2v1h-2zM757,305h2v1h-2zM757,322h2v1h-2zM757,340h2v1h-2zM757,358h2v1h-2zM757,376h2v1h-2zM757,394h2v1h-2zM757,430h2v1h-2zM757,448h2v1h-2zM757,466h2v1h-2zM757,484h2v1h-2zM757,502h2v1h-2zM757,520h2v1h-2zM757,538h2v1h-2zM757,556h2v1h-2zM757,574h2v1h-2zM757,610h2v1h-2zM757,628h2v1h-2zM757,646h2v1h-2zM775,53h1v2h-1zM775,233h1v2h-1zM775,412h1v2h-1zM775,592h1v2h-1zM793,53h1v2h-1zM793,233h1v2h-1zM793,412h1v2h-1zM793,592h1v2h-1zM811,53h1v2h-1zM811,233h1v2h-1zM811,412h1v2h-1zM811,592h1v2h-1zM829,53h1v2h-1zM829,233h1v2h-1zM829,412h1v2h-1zM829,592h1v2h-1zM847,53h1v2h-1zM847,233h1v2h-1zM847,412h1v2h-1zM847,592h1v2h-1zM865,53h1v2h-1zM865,233h1v2h-1zM865,412h1v2h-1zM865,592h1v2h-1zM883,53h1v2h-1zM883,233h1v2h-1zM883,412h1v2h-1zM883,592h1v2h-1zM901,53h1v2h-1zM901,233h1v2h-1zM901,412h1v2h-1zM901,592h1v2h-1zM919,53h1v2h-1zM919,233h1v2h-1zM919,412h1v2h-1zM919,592h1v2h-1zM936,17h2v1h-2zM936,35h2v1h-2zM936,71h2v1h-2zM936,89h2v1h-2zM936,107h2v1h-2zM936,125h2v1h-2zM936,143h2v1h-2zM936,161h2v1h-2zM936,179h2v1h-2zM936,197h2v1h-2zM936,215h2v1h-2zM936,251h2v1h-2zM936,269h2v1h-2zM936,287h2v1h-2zM936,305h2v1h-2zM936,322h2v1h-2zM936,340h2v1h-2zM936,358h2v1h-2zM936,376h2v1h-2zM936,394h2v1h-2zM936,430h2v1h-2zM936,448h2v1h-2zM936,466h2v1h-2zM936,484h2v1h-2zM936,502h2v1h-2zM936,520h2v1h-2zM936,538h2v1h-2zM936,556h2v1h-2zM936,574h2v1h-2zM936,610h2v1h-2zM936,628h2v1h-2zM936,646h2v1h-2zM955,53h1v2h-1zM955,233h1v2h-1zM955,412h1v2h-1zM955,592h1v2h-1z" fill="#B4B4B4"/>
<path d="M38,53h2v2h-2zM38,233h2v2h-2zM38,412h2v2h-2zM38,592h2v2h-2zM218,53h2v2h-2zM218,233h2v2h-2zM218,412h2v2h-2zM218,592h2v2h-2zM398,53h2v2h-2zM398,233h2v2h-2zM398,412h2v2h-2zM398,592h2v2h-2zM577,53h2v2h-2zM577,233h2v2h-2zM577,412h2v2h-2zM577,592h2v2h-2zM757,53h2v2h-2zM757,233h2v2h-2zM757,412h2v2h-2zM757,592h2v2h-2zM936,53h2v2h-2zM936,233h2v2h-2zM936,412h2v2h-2zM936,592h2v2h-2z" fill="#BCBCBC"/>
<path d="M506.00,125.00 L506.00,147.00" fill="none" stroke="#840000" stroke-width="2" stroke-linecap="round" stroke-linejoin="round"/>
<path d="M506.00,211.00 L506.00,233.00" fill="none" stroke="#840000" stroke-width="2" stroke-linecap="round" stroke-linejoin="round"/>
<path d="M506.00,147.00 L521.20,152.30 L491.60,163.00 L521.20,173.80 L491.60,184.60 L521.20,195.40 L491.60,206.00 L506.00,211.00" fill="none" stroke="#840000" stroke-width="2" stroke-linecap="round" stroke-linejoin="round"/>
<path d="M506.00,341.00 L506.00,377.00" fill="none" stroke="#840000" stroke-width="2" stroke-linecap="round" stroke-linejoin="round"/>
<path d="M506.00,485.00 L506.00,449.00" fill="none" stroke="#840000" stroke-width="2" stroke-linecap="round" stroke-linejoin="round"/>
<path d="M506.00,377.00 L506.00,388.00" fill="none" stroke="#840000" stroke-width="2" stroke-linecap="round" stroke-linejoin="round"/>
<path d="M399.00,413.00 L474.00,413.00" fill="none" stroke="#840000" stroke-width="2" stroke-linecap="round" stroke-linejoin="round"/>
<path d="M473,384 H475 V385 H476 V441 H475 V442 H473 V441 H472 V385 H473 Z" fill="#840000"/>
<path d="M480,378 H482 V379 H483 V396 H482 V397 H480 V396 H479 V379 H480 Z" fill="#840000"/>
<path d="M480,404 H482 V405 H483 V421 H482 V422 H480 V421 H479 V405 H480 Z" fill="#840000"/>
<path d="M480,429 H482 V430 H483 V446 H482 V447 H480 V446 H479 V430 H480 Z" fill="#840000"/>
<path d="M506.00,413.00 L481.00,413.00" fill="none" stroke="#840000" stroke-width="2" stroke-linecap="round" stroke-linejoin="round"/>
<path d="M506.00,413.00 L506.00,438.00" fill="none" stroke="#840000" stroke-width="2" stroke-linecap="round" stroke-linejoin="round"/>
<path d="M481.00,438.00 L517.00,438.00 L517.00,388.00 L481.00,388.00" fill="none" stroke="#840000" stroke-width="2" stroke-linecap="round" stroke-linejoin="round"/>
<path d="M502.40,412.80 L488.00,406.90 L488.00,418.40 L502.40,412.80" fill="#840000" stroke="#840000" stroke-width="2" stroke-linecap="round" stroke-linejoin="round"/>
<path d="M509.50,420.00 L511.50,418.00 L522.50,418.00 L524.50,416.00" fill="none" stroke="#840000" stroke-width="2" stroke-linecap="round" stroke-linejoin="round"/>
<path d="M517.00,418.00 L512.00,409.00 L522.00,409.00 L517.00,418.00" fill="none" stroke="#840000" stroke-width="2" stroke-linecap="round" stroke-linejoin="round"/>
<circle cx="494" cy="413" r="39.9" fill="none" stroke="#840000" stroke-width="4.4"/>
<circle cx="506" cy="388" r="5" fill="#840000"/>
<circle cx="506" cy="438" r="5" fill="#840000"/>
<path d="M506.00,538.00 L506.00,556.00 L524.00,556.00 L506.00,574.00 L488.00,556.00 L506.00,556.00" fill="none" stroke="#840000" stroke-width="2" stroke-linecap="round" stroke-linejoin="round"/>
<path d="M506.00,35.40 L506.00,125.30" fill="none" stroke="#009600" stroke-width="2" stroke-linecap="round" stroke-linejoin="round"/>
<path d="M506.00,232.90 L506.00,340.90" fill="none" stroke="#009600" stroke-width="2" stroke-linecap="round" stroke-linejoin="round"/>
<path d="M506.00,287.00 L703.70,287.00" fill="none" stroke="#009600" stroke-width="2" stroke-linecap="round" stroke-linejoin="round"/>
<path d="M254.40,413.00 L398.20,413.00" fill="none" stroke="#009600" stroke-width="2" stroke-linecap="round" stroke-linejoin="round"/>
<path d="M506.00,484.70 L506.00,538.10" fill="none" stroke="#009600" stroke-width="2" stroke-linecap="round" stroke-linejoin="round"/>
<path d="M504,281h4v1h-4zM502,282h8v1h-8zM501,283h10v1h-10zM501,284h10v1h-10zM500,285h12v1h-12zM500,286h12v1h-12zM500,287h12v1h-12zM500,288h12v1h-12zM501,289h10v1h-10zM501,290h10v1h-10zM502,291h8v1h-8zM504,292h4v1h-4z" fill="#009600"/>
<path d="M440.00,18.00 L491.00,18.00 L506.00,36.00 L491.00,54.00 L440.00,54.00 L440.00,18.00" fill="none" stroke="#840000" stroke-width="2" stroke-linecap="round" stroke-linejoin="round"/>
<path d="M704.00,287.00 L720.00,269.00 L914.00,269.00 L914.00,305.00 L720.00,305.00 L704.00,287.00" fill="none" stroke="#840000" stroke-width="2" stroke-linecap="round" stroke-linejoin="round"/>
<path d="M255.00,413.00 L240.00,395.00 L40.00,395.00 L40.00,431.00 L240.00,431.00 L255.00,413.00" fill="none" stroke="#840000" stroke-width="2" stroke-linecap="round" stroke-linejoin="round"/>
<path d="M466.11,26.85 L455.91,26.85 L455.91,34.90 M455.91,33.84 L463.11,33.84 L466.11,36.80 L466.11,42.10 L463.51,44.85 L457.31,44.85 L455.91,43.37 M470.95,26.85 L476.95,44.85 L482.95,26.85" fill="none" stroke="#840000" stroke-width="2" stroke-linecap="square" stroke-linejoin="round"/>
<path d="M739.15,278.85 L728.95,278.85 L728.95,286.49 M728.95,285.49 L736.15,285.49 L739.15,288.31 L739.15,293.33 L736.55,295.95 L730.35,295.95 L728.95,294.54 M744.05,278.85 L750.05,295.95 L756.05,278.85 M775.65,278.85 L775.65,295.95 L784.45,295.95 M791.75,283.88 L796.35,283.88 L797.95,284.48 L798.65,285.49 L799.05,287.60 L799.05,293.23 L798.65,294.44 L797.65,295.45 L796.35,295.95 L791.75,295.95 L790.45,295.45 L789.45,294.44 L789.05,293.23 L789.05,287.60 L789.45,285.49 L790.15,284.48 Z M813.95,283.88 L807.65,283.88 L806.25,284.58 L805.25,286.39 L805.25,292.73 L806.05,294.74 L807.65,295.95 L813.95,295.95 M813.95,283.88 L813.95,299.77 L812.85,301.28 L806.05,301.28 M822.60,284.38 L822.60,295.95 M822.60,279.15 L822.60,280.76 M823.60,279.45 L823.60,280.36 M839.05,284.89 L838.05,283.88 L832.75,283.88 L829.95,286.70 L829.95,293.13 L832.75,295.95 L838.05,295.95 L839.05,294.94 M862.30,278.85 L867.70,278.85 L869.60,279.86 L870.30,281.06 L871.00,282.87 L871.00,291.42 L870.30,293.54 L869.40,294.94 L867.70,295.95 L862.30,295.95 L860.60,294.94 L859.70,293.54 L859.00,291.42 L859.00,282.87 L859.70,281.06 L860.40,279.86 Z M879.05,283.88 L879.05,293.54 L881.45,295.95 L886.95,295.95 M886.95,283.88 L886.95,295.95 M895.35,278.85 L895.35,295.95 L900.15,295.95 M892.95,284.38 L900.15,284.38" fill="none" stroke="#840000" stroke-width="2" stroke-linecap="square" stroke-linejoin="round"/>
<path d="M54.85,403.95 L66.05,403.95 L59.85,410.94 L62.45,410.94 L65.55,414.11 L65.55,418.99 L62.85,421.95 L56.85,421.95 L54.85,419.83 M73.10,420.15 L75.10,420.15 L75.10,421.95 L73.10,421.95 Z M80.95,403.95 L92.15,403.95 L85.95,410.94 L88.55,410.94 L91.65,414.11 L91.65,418.99 L88.95,421.95 L82.95,421.95 L80.95,419.83 M97.35,403.95 L103.35,421.95 L109.35,403.95 M127.75,403.95 L127.75,421.95 L136.55,421.95 M144.65,410.20 L149.25,410.20 L150.85,410.78 L151.55,411.76 L151.95,413.82 L151.95,419.31 L151.55,420.48 L150.55,421.46 L149.25,421.95 L144.65,421.95 L143.35,421.46 L142.35,420.48 L141.95,419.31 L141.95,413.82 L142.35,411.76 L143.05,410.78 Z M167.75,410.20 L161.45,410.20 L160.05,410.88 L159.05,412.65 L159.05,418.82 L159.85,420.77 L161.45,421.95 L167.75,421.95 M167.75,410.20 L167.75,425.97 L166.65,427.56 L159.85,427.56 M175.45,410.69 L175.45,421.95 M175.45,404.27 L175.45,405.96 M176.45,404.59 L176.45,405.54 M191.85,411.18 L190.85,410.20 L185.55,410.20 L182.75,412.94 L182.75,419.21 L185.55,421.95 L190.85,421.95 L191.85,420.97 M213.05,403.95 L213.05,421.95 M221.85,410.20 L221.85,421.95 M221.85,412.94 L224.65,410.20 L227.45,410.20 L229.15,411.86 L229.15,421.95" fill="none" stroke="#840000" stroke-width="2" stroke-linecap="square" stroke-linejoin="round"/>
<path d="M547.95,169.05 L547.95,151.85 L556.25,151.85 L558.05,153.87 L558.05,158.73 L556.25,160.75 L547.95,160.75 M553.45,160.75 L558.05,169.05 M564.95,156.91 L570.05,151.85 L570.05,169.05 M564.95,169.05 L575.05,169.05" fill="none" stroke="#006464" stroke-width="2" stroke-linecap="square" stroke-linejoin="round"/>
<path d="M547.85,204.95 L547.85,186.85 L556.15,186.85 L557.95,188.98 L557.95,194.09 L556.15,196.22 L547.85,196.22 M553.35,196.22 L557.95,204.95 M572.75,204.95 L566.15,204.95 L565.15,203.97 L565.15,195.10 L566.15,193.72 L571.85,193.72 L572.75,194.61 L572.75,198.74 L565.15,198.74 M587.25,194.71 L586.25,193.72 L581.85,193.72 L579.85,195.10 L579.85,198.84 L580.65,199.53 L586.25,199.53 L587.95,200.91 L587.95,203.37 L587.45,204.95 L579.85,204.95 M595.35,193.62 L595.35,204.95 M595.35,187.17 L595.35,188.87 M596.35,187.49 L596.35,188.45 M610.35,194.71 L609.35,193.72 L604.95,193.72 L602.95,195.10 L602.95,198.84 L603.75,199.53 L609.35,199.53 L611.05,200.91 L611.05,203.37 L610.55,204.95 L602.95,204.95 M618.55,186.85 L618.55,204.95 L623.35,204.95 M616.15,193.62 L623.35,193.62 M630.95,193.13 L635.55,193.13 L637.15,193.72 L637.85,194.71 L638.25,196.78 L638.25,202.29 L637.85,203.47 L636.85,204.46 L635.55,204.95 L630.95,204.95 L629.65,204.46 L628.65,203.47 L628.25,202.29 L628.25,196.78 L628.65,194.71 L629.35,193.72 Z M644.95,193.13 L644.95,204.95 M644.95,196.48 L647.55,193.53 L648.35,193.13 L649.95,193.13" fill="none" stroke="#006464" stroke-width="2" stroke-linecap="square" stroke-linejoin="round"/>
<path d="M568.30,384.85 L573.10,384.85 L576.70,388.87 L576.70,398.51 L575.30,401.26 L573.70,403.06 L568.40,403.06 L566.70,401.26 L565.10,398.51 L565.10,388.56 L566.60,385.80 Z M565.10,398.51 L574.50,398.51 M574.50,399.04 L578.10,404.97 M584.05,390.14 L589.15,384.85 L589.15,402.85 M584.05,402.85 L594.15,402.85" fill="none" stroke="#006464" stroke-width="2" stroke-linecap="square" stroke-linejoin="round"/>
<path d="M565.95,438.95 L565.95,420.85 L571.95,434.05 L578.05,420.85 L578.05,438.95 M588.45,420.85 L593.85,420.85 L595.75,421.91 L596.45,423.19 L597.15,425.11 L597.15,434.16 L596.45,436.39 L595.55,437.89 L593.85,438.95 L588.45,438.95 L586.75,437.89 L585.85,436.39 L585.15,434.16 L585.15,425.11 L585.85,423.19 L586.55,421.91 Z M613.75,421.60 L612.65,420.85 L606.45,420.85 L603.95,423.19 L603.95,427.13 L605.35,429.05 L608.45,429.47 L611.45,430.22 L613.75,431.71 L613.75,436.29 L611.55,438.95 L605.55,438.95 L603.95,437.46 M630.85,420.85 L622.05,420.85 L622.05,438.95 M622.05,429.58 L629.05,429.58 M646.05,420.85 L637.05,420.85 L637.05,438.95 L646.05,438.95 M637.05,429.58 L644.05,429.58 M651.15,420.85 L660.95,420.85 M656.05,420.85 L656.05,438.95" fill="none" stroke="#006464" stroke-width="2" stroke-linecap="square" stroke-linejoin="round"/>
<path d="M493.35,601.17 L492.05,599.90 L487.35,599.90 L484.05,601.91 L482.65,604.14 L482.05,606.46 L482.05,612.50 L483.15,615.36 L485.45,617.90 L492.85,617.90 L492.85,610.91 L489.15,610.91 M501.15,617.90 L501.15,599.90 L511.15,617.90 L511.15,599.90 M520.15,599.90 L525.65,599.90 L527.75,600.85 L529.35,602.55 L530.05,605.72 L530.05,612.08 L529.35,614.94 L527.75,616.74 L525.65,617.90 L520.15,617.90 Z" fill="none" stroke="#006464" stroke-width="2" stroke-linecap="square" stroke-linejoin="round"/>
<path d="M411.23,417.23 L413.33,414.90 L418.73,414.90 L422.03,417.86 L422.03,421.25 L410.93,432.90 L422.03,432.90" fill="none" stroke="#A90000" stroke-width="2" stroke-linecap="square" stroke-linejoin="round"/>
<path d="M514.34,363.65 L509.05,358.55 L527.05,358.55 M527.05,363.65 L527.05,353.55" fill="none" stroke="#A90000" stroke-width="2" stroke-linecap="square" stroke-linejoin="round"/>
<path d="M509.25,473.35 L509.25,461.03 L516.24,467.85 L516.24,464.99 L519.41,461.58 L524.29,461.58 L527.25,464.55 L527.25,471.15 L525.13,473.35" fill="none" stroke="#A90000" stroke-width="2" stroke-linecap="square" stroke-linejoin="round"/>
<path d="M847.60,-2.00 L847.60,1.90" fill="none" stroke="#006464" stroke-width="1.6" stroke-linecap="round" stroke-linejoin="round"/>
</svg>
</body></html>
